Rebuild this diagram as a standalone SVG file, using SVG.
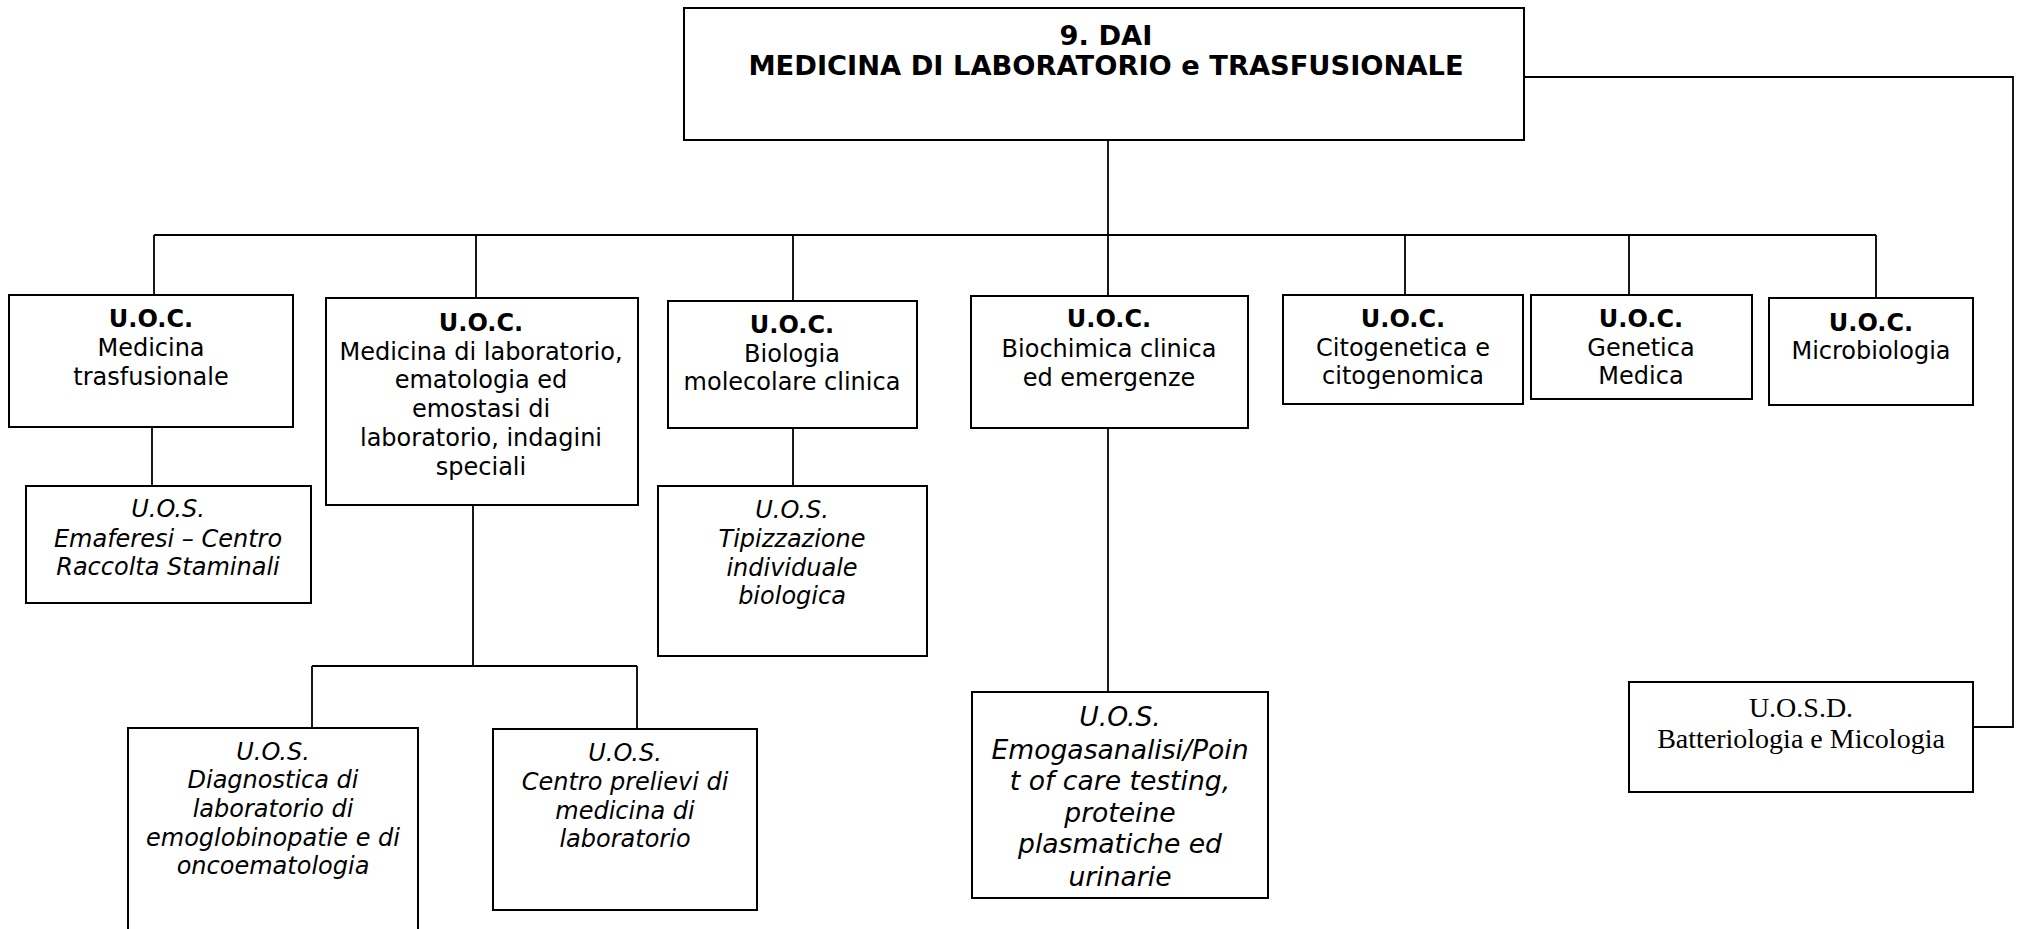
<svg xmlns="http://www.w3.org/2000/svg" width="2017" height="929" viewBox="0 0 2017 929">
<style>
.box{fill:#fff;stroke:#000;stroke-width:2}
.con{fill:none;stroke:#000;stroke-width:1.8}
text{font-family:"DejaVu Sans",Verdana,sans-serif;font-size:24px;fill:#000;text-anchor:middle}
.t{font-size:27.3px;font-weight:bold}
.b{font-weight:bold}
.i{font-style:italic}
.e{font-style:italic;font-size:26.6px}
.s{font-family:"Liberation Serif","Times New Roman",serif;font-size:28px}
</style>
<rect width="2017" height="929" fill="#fff"/>
<g id="connectors">
<path class="con" d="M1108,140 V235"/>
<path class="con" d="M154,235 H1876"/>
<path class="con" d="M154,235 V295 M476,235 V298 M793,235 V301 M1108,235 V296 M1405,235 V295 M1629,235 V295 M1876,235 V298"/>
<path class="con" d="M1524,77 H2013 V727 H1973"/>
<path class="con" d="M152,427 V486"/>
<path class="con" d="M473,506 V666 M312,666 H637 M312,666 V728 M637,666 V729"/>
<path class="con" d="M793,428 V486"/>
<path class="con" d="M1108,428 V692"/>
</g>
<g id="dai">
<rect class="box" x="684" y="8" width="840" height="132"/>
<text class="t" x="1106" y="45">9. DAI</text>
<text class="t" x="1106" y="75">MEDICINA DI LABORATORIO e TRASFUSIONALE</text>
</g>
<g id="uoc-trasfusionale">
<rect class="box" x="9" y="295" width="284" height="132"/>
<text class="b" x="151" y="327">U.O.C.</text>
<text x="151" y="356">Medicina</text>
<text x="151" y="385">trasfusionale</text>
</g>
<g id="uoc-laboratorio">
<rect class="box" x="326" y="298" width="312" height="207"/>
<text class="b" x="481" y="331">U.O.C.</text>
<text x="481" y="360">Medicina di laboratorio,</text>
<text x="481" y="388">ematologia ed</text>
<text x="481" y="417">emostasi di</text>
<text x="481" y="446">laboratorio, indagini</text>
<text x="481" y="475">speciali</text>
</g>
<g id="uoc-biologia">
<rect class="box" x="668" y="301" width="249" height="127"/>
<text class="b" x="792" y="333">U.O.C.</text>
<text x="792" y="362">Biologia</text>
<text x="792" y="390">molecolare clinica</text>
</g>
<g id="uoc-biochimica">
<rect class="box" x="971" y="296" width="277" height="132"/>
<text class="b" x="1109" y="327">U.O.C.</text>
<text x="1109" y="357">Biochimica clinica</text>
<text x="1109" y="386">ed emergenze</text>
</g>
<g id="uoc-citogenetica">
<rect class="box" x="1283" y="295" width="240" height="109"/>
<text class="b" x="1403" y="327">U.O.C.</text>
<text x="1403" y="356">Citogenetica e</text>
<text x="1403" y="384">citogenomica</text>
</g>
<g id="uoc-genetica">
<rect class="box" x="1531" y="295" width="221" height="104"/>
<text class="b" x="1641" y="327">U.O.C.</text>
<text x="1641" y="356">Genetica</text>
<text x="1641" y="384">Medica</text>
</g>
<g id="uoc-microbiologia">
<rect class="box" x="1769" y="298" width="204" height="107"/>
<text class="b" x="1871" y="331">U.O.C.</text>
<text x="1871" y="359">Microbiologia</text>
</g>
<g id="uos-emaferesi">
<rect class="box" x="26" y="486" width="285" height="117"/>
<text class="i" x="168" y="517">U.O.S.</text>
<text class="i" x="168" y="547">Emaferesi – Centro</text>
<text class="i" x="168" y="575">Raccolta Staminali</text>
</g>
<g id="uos-tipizzazione">
<rect class="box" x="658" y="486" width="269" height="170"/>
<text class="i" x="792" y="518">U.O.S.</text>
<text class="i" x="792" y="547">Tipizzazione</text>
<text class="i" x="792" y="576">individuale</text>
<text class="i" x="792" y="604">biologica</text>
</g>
<g id="uos-diagnostica">
<rect class="box" x="128" y="728" width="290" height="215"/>
<text class="i" x="273" y="760">U.O.S.</text>
<text class="i" x="273" y="788">Diagnostica di</text>
<text class="i" x="273" y="817">laboratorio di</text>
<text class="i" x="273" y="846">emoglobinopatie e di</text>
<text class="i" x="273" y="874">oncoematologia</text>
</g>
<g id="uos-prelievi">
<rect class="box" x="493" y="729" width="264" height="181"/>
<text class="i" x="625" y="761">U.O.S.</text>
<text class="i" x="625" y="790">Centro prelievi di</text>
<text class="i" x="625" y="819">medicina di</text>
<text class="i" x="625" y="847">laboratorio</text>
</g>
<g id="uos-emogas">
<rect class="box" x="972" y="692" width="296" height="206"/>
<text class="e" x="1120" y="726">U.O.S.</text>
<text class="e" x="1120" y="759">Emogasanalisi/Poin</text>
<text class="e" x="1120" y="790">t of care testing,</text>
<text class="e" x="1120" y="822">proteine</text>
<text class="e" x="1120" y="853">plasmatiche ed</text>
<text class="e" x="1120" y="886">urinarie</text>
</g>
<g id="uosd-batteriologia">
<rect class="box" x="1629" y="682" width="344" height="110"/>
<text class="s" x="1801" y="717">U.O.S.D.</text>
<text class="s" x="1801" y="748">Batteriologia e Micologia</text>
</g>
</svg>
